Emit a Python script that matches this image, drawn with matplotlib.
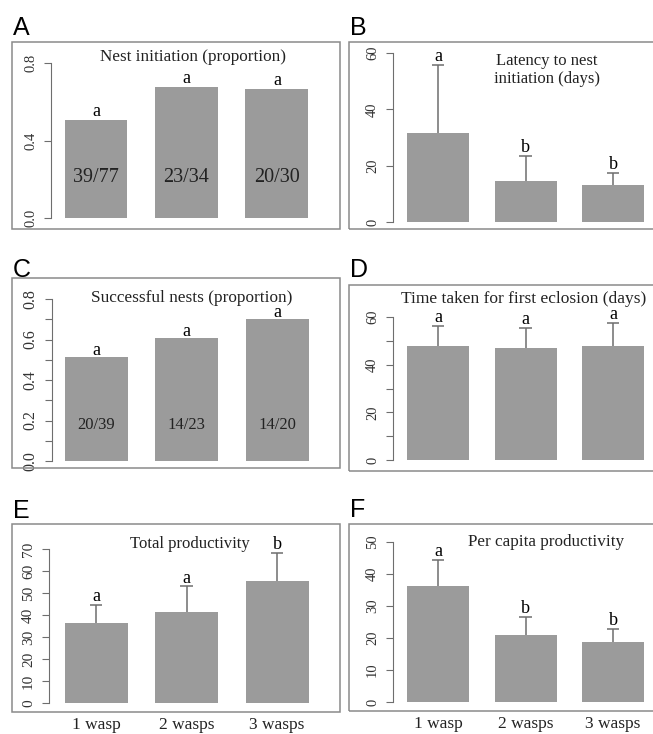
"""Wasp nest founding: six bar panels (A-F), R base-graphics look."""
import matplotlib
matplotlib.use("Agg")
import matplotlib.pyplot as plt
from matplotlib.patches import Rectangle

W, H = 653, 734

groups = ["1 wasp", "2 wasps", "3 wasps"]

nest_init = [0.506, 0.676, 0.667]
nest_init_n = ["39/77", "23/34", "20/30"]
nest_init_sig = ["a", "a", "a"]

latency_mean = [31.5, 14.7, 13.1]
latency_err = [24.2, 8.8, 4.2]
latency_sig = ["a", "b", "b"]

success = [0.513, 0.609, 0.700]
success_n = ["20/39", "14/23", "14/20"]
success_sig = ["a", "a", "a"]

eclosion_mean = [47.7, 46.8, 47.7]
eclosion_err = [8.4, 8.7, 9.8]
eclosion_sig = ["a", "a", "a"]

total_mean = [36.4, 41.4, 55.6]
total_err = [8.0, 11.6, 12.6]
total_sig = ["a", "a", "b"]

percap_mean = [36.2, 20.8, 18.8]
percap_err = [8.3, 5.8, 3.9]
percap_sig = ["a", "b", "b"]

SERIF = "Liberation Serif"
BAR = "#9b9b9b"
LINE = "#6e6e6e"
BOX = "#8a8a8a"

fig = plt.figure(figsize=(W / 100, H / 100), dpi=100)


def fx(px):
    return px / W


def fy(py):
    return 1 - py / H


def panel(label, label_y, box, axis_x, y0, ytop, ymax, ticks, labels, c1, step, bw,
          vals, errs, sig, title, title_xy, title_fs=12.3, tick_fs=10.5, sig_off=2.8):
    # outer frame (R box("figure") style)
    x0, y0b, x1, y1b = box
    fig.patches.append(Rectangle((fx(x0), fy(y1b)), fx(x1 - x0), (y1b - y0b) / H,
                                 transform=fig.transFigure, fill=False,
                                 ec=BOX, lw=1.1))
    fig.text(fx(x0 + 1), fy(label_y), label, family="Liberation Sans",
             fontsize=18, ha="left", va="baseline")
    right = x1 - 2
    ax = fig.add_axes([fx(axis_x), fy(y0), fx(right - axis_x), (y0 - ytop) / H])
    xl = -(c1 - axis_x) / step
    ax.set_xlim(xl, xl + (right - axis_x) / step)
    ax.set_ylim(0, ymax)
    xs = range(len(vals))
    ax.bar(xs, vals, width=bw / step, color=BAR, clip_on=False)
    tops = list(vals)
    if errs is not None:
        hi = [v + e for v, e in zip(vals, errs)]
        ax.vlines(xs, vals, hi, color=LINE, lw=1.1, clip_on=False)
        ax.hlines(hi, [x - 0.07 for x in xs], [x + 0.07 for x in xs],
                  color=LINE, lw=1.1, clip_on=False)
        tops = hi
    for x, t, s in zip(xs, tops, sig):
        ax.annotate(s, (x, t), xytext=(0, sig_off), textcoords="offset points",
                    ha="center", va="baseline", family=SERIF, fontsize=13)
    for s in ("top", "right", "bottom"):
        ax.spines[s].set_visible(False)
    ax.spines["left"].set_bounds(0, ymax)
    ax.spines["left"].set_color(LINE)
    ax.set_xticks([])
    ax.set_yticks(ticks)
    ax.set_yticklabels(labels, rotation=90, va="center", family=SERIF,
                       fontsize=tick_fs, color="#333333")
    ax.tick_params(axis="y", length=5, color=LINE, pad=5)
    ax.patch.set_visible(False)
    fig.text(fx(title_xy[0]), fy(title_xy[1]), title, ha="center", va="center",
             family=SERIF, fontsize=title_fs, color="#222222", linespacing=1.15)
    return ax


LEFT = dict(c1=96, step=90.5, bw=63)
RIGHT = dict(c1=438, step=87.5, bw=62)

# A
ax = panel("A", 35, (12, 42, 340, 229), 51, 218, 63, 0.8, [0, 0.4, 0.8],
           ["0.0", "0.4", "0.8"], vals=nest_init, errs=None, sig=nest_init_sig,
           title="Nest initiation (proportion)", title_xy=(193, 57), **LEFT)
for i, t in enumerate(nest_init_n):
    ax.text(i, 0.21, t, ha="center", va="center", family=SERIF, fontsize=14.5,
            color="#222222")

# B
panel("B", 35, (349, 42, 660, 229), 393, 222, 53, 60, [0, 20, 40, 60],
      ["0", "20", "40", "60"], vals=latency_mean, errs=latency_err,
      sig=latency_sig, title="Latency to nest\ninitiation (days)",
      title_xy=(547, 70), title_fs=12, **RIGHT)

# C
ticks_c = [i / 10 for i in range(9)]
ax = panel("C", 277, (12, 278, 340, 468), 52, 461, 299, 0.8, ticks_c,
           [f"{t:.1f}" if i % 2 == 0 else "" for i, t in enumerate(ticks_c)],
           vals=success, errs=None, sig=success_sig,
           title="Successful nests (proportion)", title_xy=(192, 297.5),
           title_fs=12.4, tick_fs=11.5, sig_off=1.5, **LEFT)
for i, t in enumerate(success_n):
    ax.text(i, 0.18, t, ha="center", va="center", family=SERIF, fontsize=12,
            color="#222222")

# D
ticks_d = list(range(0, 61, 10))
panel("D", 277, (349, 285, 660, 471), 393, 460, 317, 60, ticks_d,
      [str(t) if t % 20 == 0 else "" for t in ticks_d],
      vals=eclosion_mean, errs=eclosion_err, sig=eclosion_sig,
      title="Time taken for first eclosion (days)", title_xy=(524, 299),
      title_fs=12.5, **RIGHT)

# E
ticks_e = list(range(0, 71, 10))
ax = panel("E", 518, (12, 524, 340, 712), 49, 703, 549, 70, ticks_e,
           [str(t) for t in ticks_e], vals=total_mean, errs=total_err,
           sig=total_sig, title="Total productivity", title_xy=(190, 544),
           title_fs=12, tick_fs=11, **LEFT)
for i, g in enumerate(groups):
    ax.text(i, -0.09, g, transform=ax.get_xaxis_transform(), ha="center",
            va="top", family=SERIF, fontsize=12.5, color="#222222")

# F
ticks_f = list(range(0, 51, 10))
ax = panel("F", 517, (349, 524, 660, 711), 393, 702, 542, 50, ticks_f,
           [str(t) for t in ticks_f], vals=percap_mean, errs=percap_err,
           sig=percap_sig, title="Per capita productivity",
           title_xy=(546, 542), **RIGHT)
for i, g in enumerate(groups):
    ax.text(i, -0.09, g, transform=ax.get_xaxis_transform(), ha="center",
            va="top", family=SERIF, fontsize=12.5, color="#222222")

fig.savefig("out.png", dpi=100)
